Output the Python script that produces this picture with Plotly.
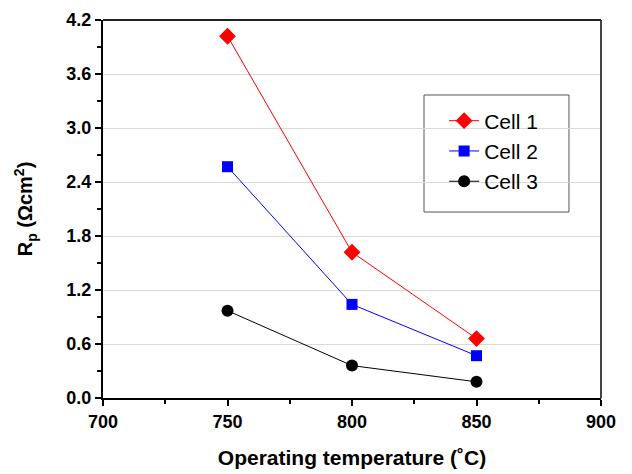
import plotly.graph_objects as go

temps = [750, 800, 850]
cell1 = [4.02, 1.62, 0.66]
cell2 = [2.57, 1.04, 0.47]
cell3 = [0.97, 0.36, 0.18]
names = ["Cell 1", "Cell 2", "Cell 3"]
colors = ["#ff0000", "#0000ff", "#000000"]
symbols = ["diamond", "square", "circle"]
sizes = [13, 11, 12]

x_ticks = [700, 750, 800, 850, 900]
y_ticks = [0, 0.6, 1.2, 1.8, 2.4, 3.0, 3.6, 4.2]

fig = go.Figure()
for name, vals, c, s, sz in zip(names, [cell1, cell2, cell3], colors, symbols, sizes):
    fig.add_trace(go.Scatter(
        x=temps, y=vals, name=name, mode="lines+markers",
        line=dict(color=c, width=1),
        marker=dict(symbol=s, size=sz, color=c),
    ))

font_fam = "Liberation Sans, Arial, sans-serif"
# page body has an 8px margin, so the figure is sized/offset to compensate
fig.update_layout(
    width=624, height=466,
    margin=dict(l=95, r=31, t=12, b=76),
    plot_bgcolor="white", paper_bgcolor="white",
    font=dict(family=font_fam, color="black"),
    legend=dict(
        x=0.685, y=0.787, xanchor="left", yanchor="top",
        borderwidth=0, bgcolor="rgba(0,0,0,0)",
        font=dict(size=21, family=font_fam, color="black"),
        tracegroupgap=0,
    ),
    showlegend=True,
)
# legend frame
fig.add_shape(type="rect", xref="paper", yref="paper", x0=0.6446, x1=0.9357, y0=0.492, y1=0.8016,
              line=dict(color="#555555", width=1), fillcolor="white", layer="below")
fig.update_xaxes(
    range=[700, 900], tickvals=x_ticks,
    ticktext=[f"<b>{v}</b>" for v in x_ticks],
    automargin=False,
    showline=True, linecolor="black", linewidth=2, mirror=False,
    ticks="outside", ticklen=6, tickwidth=2, tickcolor="black",
    minor=dict(tickvals=[725, 775, 825, 875], ticks="outside", ticklen=4, tickwidth=1.5, tickcolor="black"),
    showgrid=False, zeroline=False,
    tickfont=dict(size=18, family=font_fam, color="black"),
    title=dict(text="<b>Operating temperature (˚C)</b>", font=dict(size=21, family=font_fam), standoff=20),
)
fig.update_yaxes(
    range=[0, 4.2], tickvals=y_ticks,
    ticktext=[f"<b>{v:.1f}</b>" for v in y_ticks],
    automargin=False,
    showline=True, linecolor="black", linewidth=2,
    ticks="outside", ticklen=6, tickwidth=2, tickcolor="black",
    minor=dict(tickvals=[0.3, 0.9, 1.5, 2.1, 2.7, 3.3, 3.9], ticks="outside", ticklen=4, tickwidth=1.5, tickcolor="black", showgrid=False),
    showgrid=True, gridcolor="#d9d9d9", gridwidth=1, zeroline=False,
    tickfont=dict(size=18, family=font_fam, color="black"),
    title=dict(text="<b>R<sub>p</sub> (Ωcm<sup>2</sup>)</b>", font=dict(size=20, family=font_fam), standoff=28),
)
# right and top frame lines
fig.add_shape(type="line", xref="paper", yref="paper", x0=1, x1=1, y0=0, y1=1,
              line=dict(color="#444444", width=2))
fig.add_shape(type="line", xref="paper", yref="paper", x0=0, x1=1, y0=1, y1=1,
              line=dict(color="#222222", width=2))

fig.write_html("out.html")
